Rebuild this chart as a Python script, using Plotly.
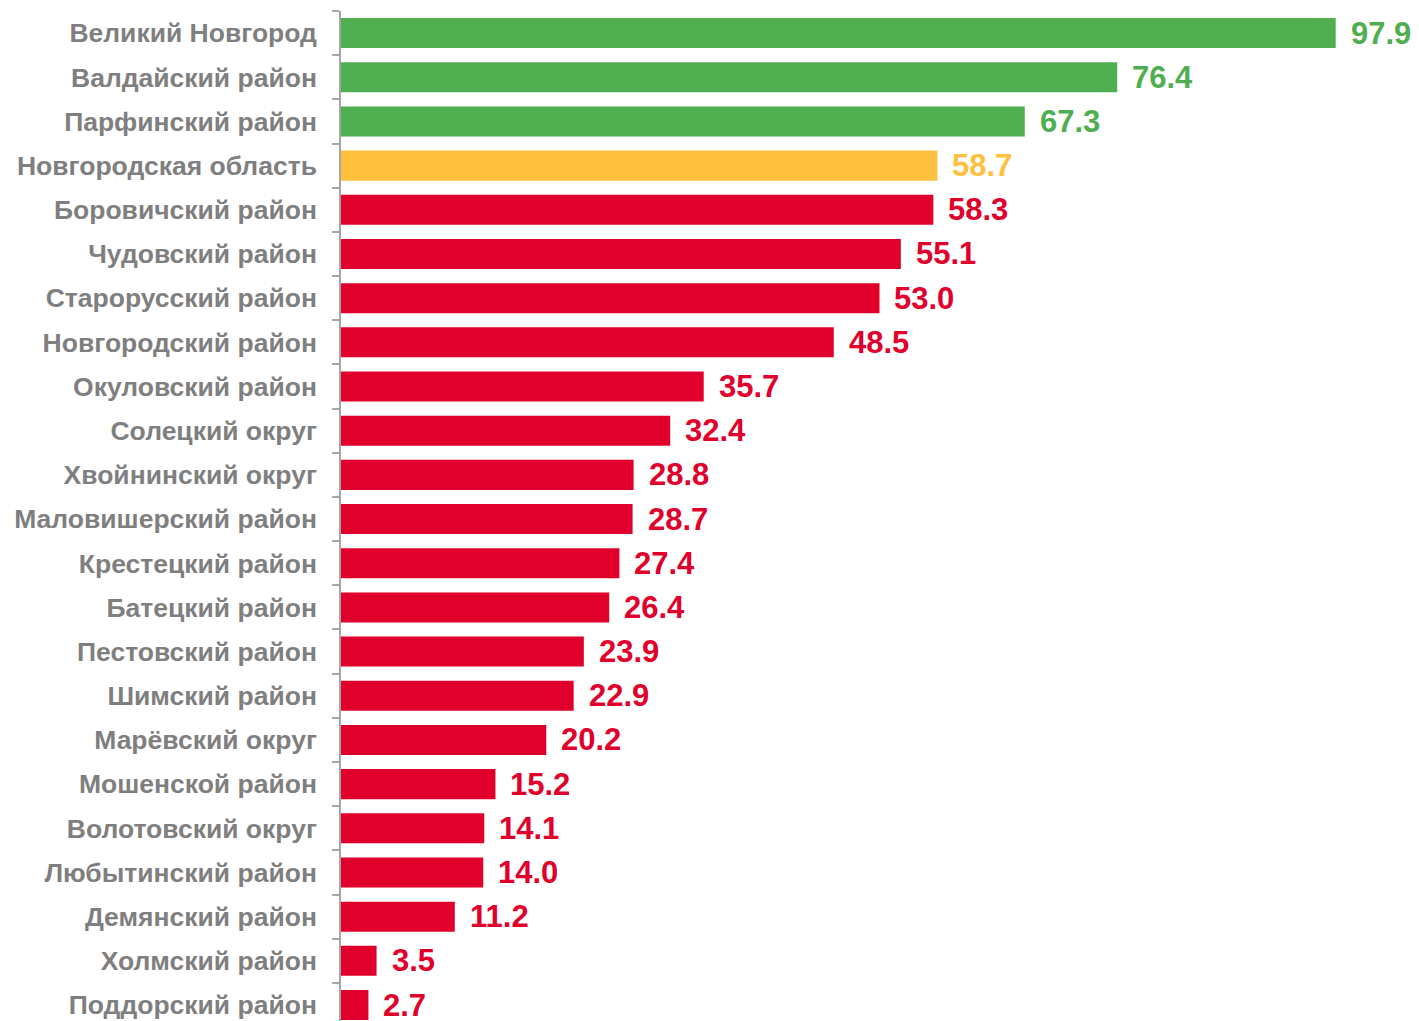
import plotly.graph_objects as go

categories = ["Великий Новгород", "Валдайский район", "Парфинский район", "Новгородская область",
              "Боровичский район", "Чудовский район", "Старорусский район", "Новгородский район",
              "Окуловский район", "Солецкий округ", "Хвойнинский округ", "Маловишерский район",
              "Крестецкий район", "Батецкий район", "Пестовский район", "Шимский район",
              "Марёвский округ", "Мошенской район", "Волотовский округ", "Любытинский район",
              "Демянский район", "Холмский район", "Поддорский район"]
values = [97.9, 76.4, 67.3, 58.7, 58.3, 55.1, 53.0, 48.5, 35.7, 32.4, 28.8, 28.7, 27.4, 26.4,
          23.9, 22.9, 20.2, 15.2, 14.1, 14.0, 11.2, 3.5, 2.7]
groups = ["good"] * 3 + ["region"] + ["bad"] * 19

palette = {"good": "#4FAE50", "region": "#FFC13D", "bad": "#E0002B"}
colors = [palette[g] for g in groups]

fig = go.Figure()
fig.add_trace(go.Bar(
    x=values, y=categories, orientation="h",
    marker=dict(color=colors, line=dict(width=0)),
    hoverinfo="x+y",
))

for c, v, col in zip(categories, values, colors):
    fig.add_annotation(x=v, y=c, text=f"<b>{v:.1f}</b>", showarrow=False,
                       xanchor="left", yanchor="middle", xshift=13, yshift=0,
                       font=dict(family="Liberation Sans, Arial, sans-serif", size=31, color=col))

fig.update_layout(
    width=1411, height=1013,
    margin=dict(l=333, r=0, t=3, b=0),
    paper_bgcolor="white", plot_bgcolor="white",
    bargap=0.32,
    showlegend=False,
    xaxis=dict(range=[0, 106.1], visible=False, fixedrange=True),
    yaxis=dict(
        type="category",
        categoryorder="array", categoryarray=categories,
        range=[22.362, -0.5],
        showline=True, linecolor="#A6A6A6", linewidth=1.5,
        ticks="outside", tickson="boundaries", ticklen=7, tickcolor="#A6A6A6", tickwidth=1.5,
        ticklabelstandoff=17,
        tickfont=dict(family="Liberation Sans, Arial, sans-serif", size=26.5, color="#7F7F7F", weight="bold"),
        showgrid=False, zeroline=False,
    ),
)

fig.write_html("out.html")
